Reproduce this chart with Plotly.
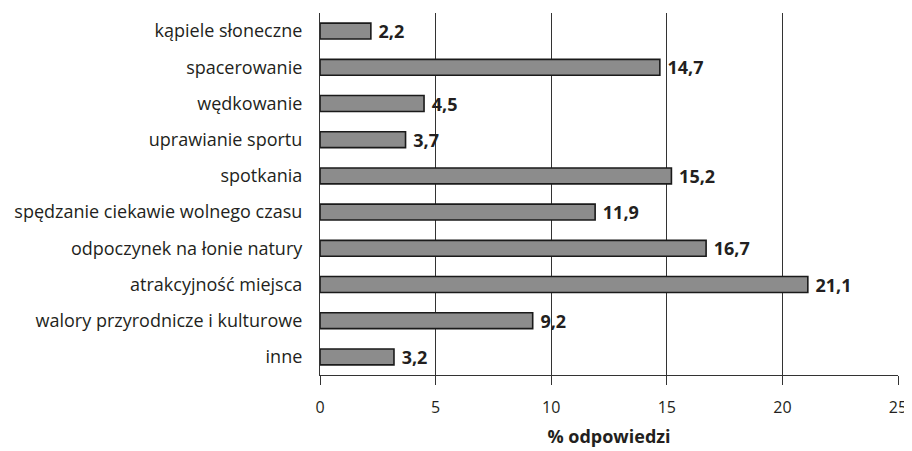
import plotly.graph_objects as go

categories = ["kąpiele słoneczne", "spacerowanie", "wędkowanie", "uprawianie sportu",
              "spotkania", "spędzanie ciekawie wolnego czasu", "odpoczynek na łonie natury",
              "atrakcyjność miejsca", "walory przyrodnicze i kulturowe", "inne"]
values = [2.2, 14.7, 4.5, 3.7, 15.2, 11.9, 16.7, 21.1, 9.2, 3.2]
x_ticks = [0, 5, 10, 15, 20, 25]
x_title = "% odpowiedzi"

FONT = "Open Sans"
TXT = "#231f20"

fig = go.Figure(go.Bar(
    y=categories, x=values, orientation="h",
    marker=dict(color="#8c8c8c", line=dict(color="#1a1a1a", width=1.6)),
    width=0.44,
    texttemplate="\u00a0%{x:.1f}", textposition="outside", cliponaxis=False,
    constraintext="none",
    textfont=dict(family=FONT, size=18, color=TXT, weight="bold"),
))

# page body has an 8px margin, so the figure is drawn 8px smaller and offset
fig.update_layout(
    width=904, height=443,
    margin=dict(l=312, r=14, t=5, b=76),
    plot_bgcolor="white", paper_bgcolor="white",
    separators=", ",
    showlegend=False,
    font=dict(family=FONT, size=17, color=TXT),
)
fig.update_xaxes(
    range=[0, 25], tickvals=x_ticks, ticktext=[str(t) for t in x_ticks],
    showgrid=True, gridcolor="#333333", gridwidth=1,
    showline=True, linecolor="#333333", linewidth=1.2,
    ticks="outside", ticklen=9, tickcolor="#333333", tickwidth=1,
    ticklabelstandoff=9,
    tickfont=dict(family=FONT, size=16, color=TXT),
    zeroline=False, automargin=False,
    title=dict(text=x_title, font=dict(family=FONT, size=18, color=TXT, weight="bold"), standoff=13),
)
fig.update_yaxes(
    categoryorder="array", categoryarray=categories, autorange="reversed",
    showline=True, linecolor="#333333", linewidth=1.2,
    ticks="", ticklabelstandoff=13, automargin=False,
    tickfont=dict(family=FONT, size=18, color=TXT),
)

fig.write_html("out.html")
